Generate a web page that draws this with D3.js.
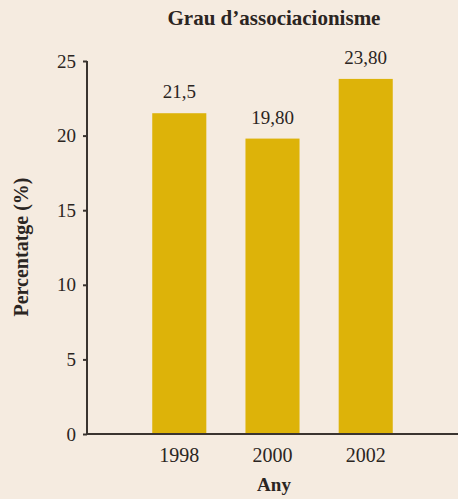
<!DOCTYPE html>
<html>
<head>
<meta charset="utf-8">
<script src="https://cdn.jsdelivr.net/npm/d3@7"></script>
<style>
	body { margin: 0; background: #f5ebe0; }
	svg { display: block; font-family: 'Liberation Serif', 'DejaVu Serif', serif; }
	.axis path, .axis line { stroke: #3a3430; stroke-width: 2; }
	.axis text { fill: #2b2522; font-size: 19px; font-family: 'Liberation Serif', serif; }
</style>
</head>
<body>
<div class="container"></div>
<script>
var years = ['1998', '2000', '2002'];
var values = [21.5, 19.8, 23.8];
var valueLabels = ['21,5', '19,80', '23,80'];
var yTicks = [0, 5, 10, 15, 20, 25];

var width = 458,
	height = 499;

var svg = d3
	.select('.container')
	.append('svg')
	.attr('width', width)
	.attr('height', height);

svg.append('rect')
	.attr('width', width)
	.attr('height', height)
	.attr('fill', '#f5ebe0');

var x = d3
	.scaleBand()
	.domain(years)
	.range([87, 458])
	.paddingInner(0.42)
	.paddingOuter(0.7);

var y = d3.scaleLinear().domain([0, 25]).range([434, 61]);

// bars
svg
	.append('g')
	.selectAll('rect')
	.data(values)
	.enter()
	.append('rect')
	.attr('x', function(d, i) {
		return x(years[i]);
	})
	.attr('y', function(d) {
		return y(d);
	})
	.attr('width', x.bandwidth())
	.attr('height', function(d) {
		return y(0) - y(d);
	})
	.attr('fill', '#ddb309');

// value labels
svg
	.append('g')
	.selectAll('text')
	.data(values)
	.enter()
	.append('text')
	.text(function(d, i) {
		return valueLabels[i];
	})
	.attr('x', function(d, i) {
		return x(years[i]) + x.bandwidth() / 2;
	})
	.attr('y', function(d) {
		return y(d) - 15;
	})
	.attr('text-anchor', 'middle')
	.attr('fill', '#2b2522')
	.style('font-size', '19px');

// y axis
var yAxis = svg
	.append('g')
	.attr('class', 'axis')
	.attr('transform', 'translate(87,0)')
	.call(d3.axisLeft(y).tickValues(yTicks).tickSize(4).tickPadding(7));
yAxis.select('.domain').attr('d', 'M0,' + y(25) + 'V' + y(0));

// x axis
var xAxis = svg
	.append('g')
	.attr('class', 'axis')
	.attr('transform', 'translate(0,434)')
	.call(d3.axisBottom(x).tickSize(0).tickPadding(14));
xAxis.select('.domain').attr('d', 'M87,0H458');
xAxis.selectAll('text').style('font-size', '20px');

// title
svg
	.append('text')
	.text('Grau d\u2019associacionisme')
	.attr('x', 274)
	.attr('y', 25)
	.attr('text-anchor', 'middle')
	.attr('fill', '#2b2522')
	.style('font-weight', 'bold')
	.style('font-size', '21px');

// axis titles
svg
	.append('text')
	.text('Any')
	.attr('x', 274)
	.attr('y', 491)
	.attr('text-anchor', 'middle')
	.attr('fill', '#2b2522')
	.style('font-weight', 'bold')
	.style('font-size', '19px');

svg
	.append('text')
	.text('Percentatge (%)')
	.attr('transform', 'translate(28,247) rotate(-90)')
	.attr('text-anchor', 'middle')
	.attr('fill', '#2b2522')
	.style('font-weight', 'bold')
	.style('font-size', '20px');
</script>
</body>
</html>
